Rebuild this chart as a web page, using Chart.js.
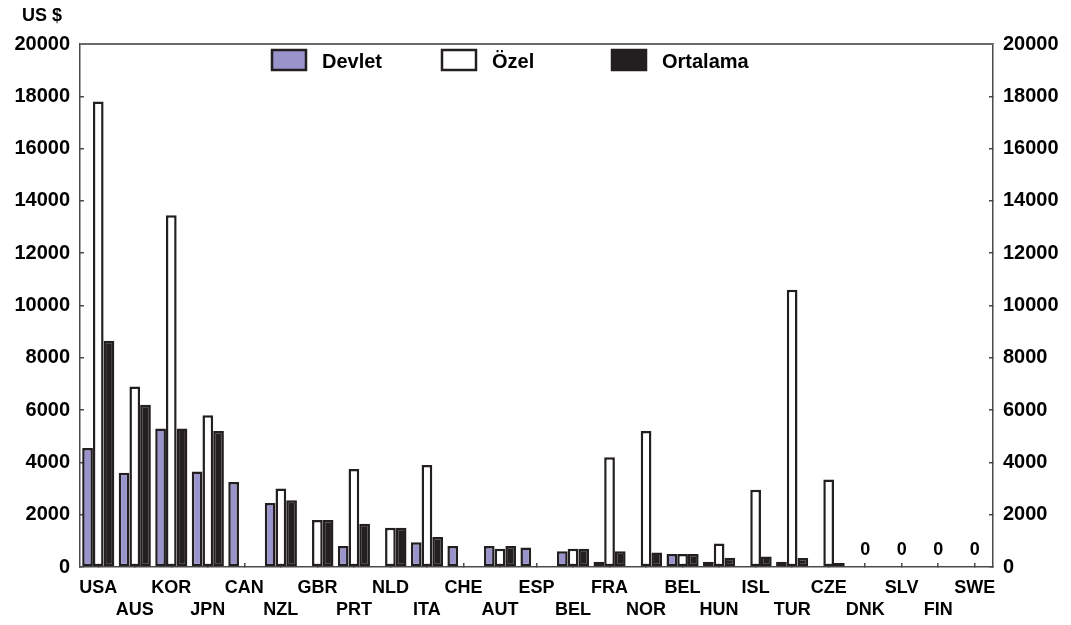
<!DOCTYPE html>
<html>
<head>
<meta charset="utf-8">
<script src="https://cdn.jsdelivr.net/npm/chart.js@4.4.1/dist/chart.umd.min.js"></script>
<style>
  html, body { margin: 0; padding: 0; background: #fff; }
  #wrap { width: 1071px; height: 625px; position: relative; }
</style>
</head>
<body>
<div id="wrap"><canvas id="chart" width="1071" height="625"></canvas></div>
<script>
// Country codes (BEL appears twice in the source chart)
const countries = ['USA', 'AUS', 'KOR', 'JPN', 'CAN', 'NZL', 'GBR', 'PRT', 'NLD', 'ITA', 'CHE', 'AUT', 'ESP',
  'BEL', 'FRA', 'NOR', 'BEL', 'HUN', 'ISL', 'TUR', 'CZE', 'DNK', 'SLV', 'FIN', 'SWE'];

// US $ per student
const devlet   = [4550, 3600, 5300, 3650, 3250, 2450, null, 800, null, 950, 800, 800, 750,
  600, 200, null, 500, 200, null, 200, null, 0, 0, 0, 0];
const ozel     = [17800, 6900, 13450, 5800, null, 3000, 1800, 3750, 1500, 3900, null, 700, null,
  700, 4200, 5200, 500, 900, 2950, 10600, 3350, 0, 0, 0, 0];
const ortalama = [8650, 6200, 5300, 5200, null, 2550, 1800, 1650, 1500, 1150, null, 800, null,
  700, 600, 550, 500, 350, 400, 340, 150, 0, 0, 0, 0];

const yTicks = [0, 2000, 4000, 6000, 8000, 10000, 12000, 14000, 16000, 18000, 20000];

const INK = '#231f20';
const LILAC = '#9994cc';
const AXIS = '#4a4a4a';
const FONT = '"Liberation Sans", Arial, sans-serif';

// staggered x labels: odd ones go on a second line
const xLabels = countries.map((c, i) => i % 2 ? ['', c] : c);

const frameAndExtras = {
  id: 'frameAndExtras',
  afterDraw(chart) {
    const { ctx, chartArea: a, scales } = chart;
    ctx.save();
    // top edge of the box
    ctx.strokeStyle = '#6a6a6a';
    ctx.lineWidth = 2;
    ctx.beginPath();
    ctx.moveTo(a.left, a.top);
    ctx.lineTo(a.right, a.top);
    ctx.stroke();

    // unit label
    ctx.fillStyle = '#000';
    ctx.font = 'bold 18px ' + FONT;
    ctx.textAlign = 'left';
    ctx.textBaseline = 'middle';
    ctx.fillText('US $', 22, 16);

    // "0" above empty countries
    ctx.textAlign = 'center';
    ctx.textBaseline = 'bottom';
    countries.forEach((c, i) => {
      if (devlet[i] === 0 && ozel[i] === 0 && ortalama[i] === 0) {
        ctx.fillText('0', scales.x.getPixelForValue(i), scales.y.getPixelForValue(0) - 8);
      }
    });

    // legend inside the plot
    const items = [
      { text: 'Devlet', fill: LILAC, x: 272 },
      { text: 'Özel', fill: '#fff', x: 442 },
      { text: 'Ortalama', fill: INK, x: 612 }
    ];
    ctx.font = 'bold 20px ' + FONT;
    ctx.textAlign = 'left';
    ctx.textBaseline = 'middle';
    items.forEach(it => {
      ctx.fillStyle = it.fill;
      ctx.fillRect(it.x, 50, 34, 20);
      ctx.strokeStyle = INK;
      ctx.lineWidth = 2.5;
      ctx.strokeRect(it.x, 50, 34, 20);
      ctx.fillStyle = '#000';
      ctx.fillText(it.text, it.x + 50, 62);
    });
    ctx.restore();
  }
};

const yAxis = (position, width) => ({
  position,
  min: 0,
  max: 20000,
  afterBuildTicks: s => { s.ticks = yTicks.map(v => ({ value: v })); },
  afterFit: s => { s.width = width; },
  grid: { drawOnChartArea: false, tickLength: -4, color: AXIS, lineWidth: 1.5 },
  border: { display: true, color: AXIS, width: 1.5 },
  ticks: {
    padding: 14,
    color: '#000',
    callback: v => String(v),
    font: { family: FONT, size: 20, weight: 'bold' }
  }
});

new Chart(document.getElementById('chart'), {
  type: 'bar',
  data: {
    labels: xLabels,
    datasets: [
      { label: 'Devlet', data: devlet, backgroundColor: LILAC },
      { label: 'Özel', data: ozel, backgroundColor: '#fff' },
      { label: 'Ortalama', data: ortalama, backgroundColor: INK }
    ].map(d => Object.assign(d, {
      borderColor: INK,
      borderWidth: c => (c.raw ? 2.5 : 0),
      borderSkipped: false,
      barPercentage: 1,
      categoryPercentage: 0.88
    }))
  },
  options: {
    responsive: false,
    animation: false,
    layout: { padding: { top: 44, left: 0, right: 0, bottom: 0 } },
    plugins: { legend: { display: false }, tooltip: { enabled: false } },
    scales: {
      x: {
        afterFit: s => { s.height = 58; },
        grid: { offset: false, drawOnChartArea: false, tickLength: -4, color: AXIS, lineWidth: 1.5 },
        border: { display: true, color: AXIS, width: 1.5 },
        ticks: {
          autoSkip: false,
          maxRotation: 0,
          padding: 14,
          color: '#000',
          font: { family: FONT, size: 18, weight: 'bold', lineHeight: 1.22 }
        }
      },
      y: yAxis('left', 80),
      y2: Object.assign(yAxis('right', 78), { display: true })
    }
  },
  plugins: [frameAndExtras]
});
</script>
</body>
</html>
